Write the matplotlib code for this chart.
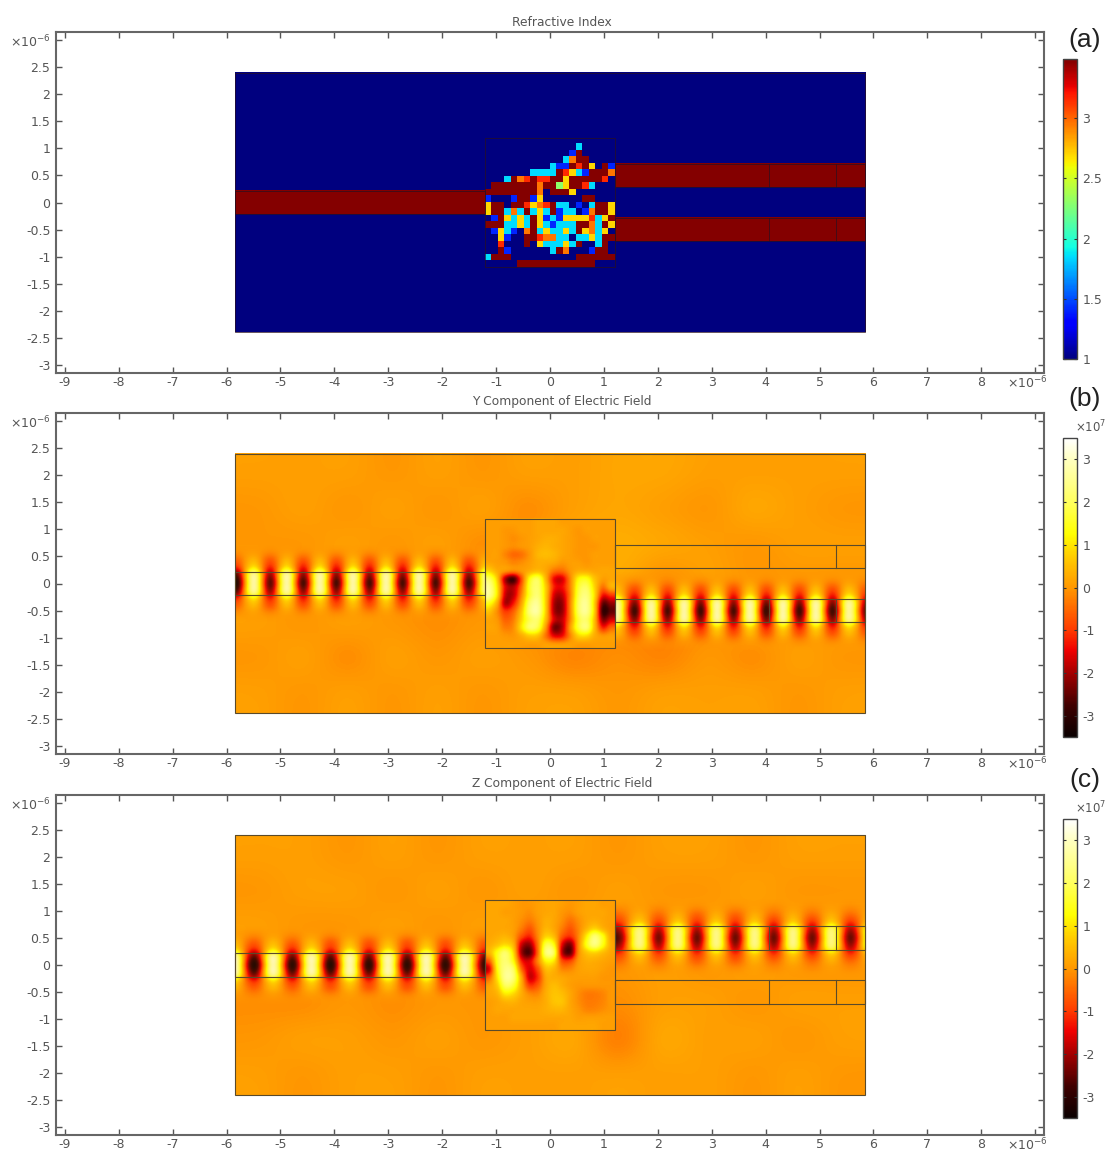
"""Refractive index map and Y / Z electric field maps of a waveguide splitter."""

import numpy as np
import matplotlib
matplotlib.use("Agg")
import matplotlib.pyplot as plt
from matplotlib.colors import LinearSegmentedColormap, Normalize
from matplotlib.cm import ScalarMappable
from matplotlib.patches import Rectangle

# axis ticks
x_ticks = [-9, -8, -7, -6, -5, -4, -3, -2, -1, 0, 1, 2, 3, 4, 5, 6, 7, 8, 9]
y_ticks = [3, 2.5, 2, 1.5, 1, 0.5, 0, -0.5, -1, -1.5, -2, -2.5, -3]
n_ticks = [1, 1.5, 2, 2.5, 3]
field_ticks = [-3, -2, -1, 0, 1, 2, 3]

# refractive index
n_clad = 1.0
n_core = 3.48
n_levels = {".": 1.0, "b": 1.4, "c": 1.85, "g": 2.3, "y": 2.7, "o": 2.95, "r": 3.15, "d": 3.48}
n_design = [
    "....................",
    "..............c.....",
    ".............bd.....",
    "............codd....",
    "..........cbbdrdy.db",
    ".......ccccdrycbdddo",
    "...cdordrrddydddddr.",
    ".dddddddoddgyddrc...",
    "ddddddddo.dddy......",
    "b...bddby......dd...",
    "ydd.ddryordcc.b.cddy",
    "yddcocdcycdbcc.boddy",
    ".bdycycdybcbyyyyrcyd",
    "dddccycdycbcccddocdy",
    ".bycb.odcyccycdyocy.",
    "..yb..ddroocc.ccycdd",
    "..r...d.ycccycd..cd.",
    "..db......cdo...bdd.",
    "cddd..........dddddd",
    ".....dddddddddddd...",
]

# waveguides: x from, x to, y from, y to
wg_in = [-5.85, -1.2, -0.22, 0.22]
wg_top = [1.2, 5.85, 0.28, 0.72]
wg_bottom = [1.2, 5.85, -0.72, -0.28]
domain = [-5.85, 5.85, -2.4, 2.4]
design = [-1.2, 1.2, -1.2, 1.2]
wg_cuts = [4.07, 5.3]

# faint field around the guides, rows from y=2.4 down to y=-2.4
bg_y = [
    [0.1, 0.1, 0.1, 0.0, 0.1, 0.0, 0.1, 0.1, 0.2, 0.2, 0.1, 0.1, 0.1, 0.1],
    [0.0, 0.1, 0.0, 0.1, 0.0, 0.1, -0.1, 0.1, 0.2, 0.1, 0.0, 0.2, 0.1, 0.0],
    [0.0, 0.0, 0.1, 0.0, 0.1, -0.1, 0.0, 0.2, 0.3, 0.2, 0.1, 0.0, 0.1, 0.1],
    [0.0, 0.1, 0.0, 0.0, 0.0, 0.0, 0.0, -0.1, 0.2, -0.1, 0.1, 0.0, 0.0, 0.0],
    [0.1, 0.0, 0.1, 0.0, -0.1, 0.0, -0.1, 0.0, -0.2, -0.2, -0.1, 0.1, 0.0, 0.1],
    [0.0, 0.1, -0.1, 0.1, 0.0, 0.1, 0.0, -0.2, -0.1, -0.2, 0.0, -0.1, 0.1, 0.0],
    [0.1, 0.0, 0.1, 0.0, 0.1, 0.0, 0.1, 0.1, 0.0, 0.1, 0.1, 0.1, 0.0, 0.1],
]
bg_z = [
    [0.1, 0.1, 0.0, 0.1, 0.0, 0.1, 0.1, 0.1, 0.0, 0.1, 0.1, 0.0, 0.1, 0.1],
    [0.0, 0.1, 0.1, 0.0, 0.1, 0.0, 0.1, 0.0, 0.1, 0.0, 0.0, 0.1, 0.0, 0.0],
    [0.1, 0.0, 0.0, 0.1, 0.0, 0.1, 0.0, 0.1, 0.1, 0.1, 0.1, 0.0, 0.1, 0.1],
    [0.0, 0.1, 0.1, 0.0, 0.1, 0.0, 0.0, 0.0, 0.0, 0.1, 0.0, 0.1, 0.0, 0.0],
    [-0.1, -0.1, 0.0, -0.1, 0.0, 0.0, 0.1, 0.1, -0.1, 0.1, 0.1, 0.0, 0.1, 0.1],
    [0.0, 0.1, 0.1, 0.0, 0.1, 0.0, 0.1, 0.2, -0.25, 0.2, 0.1, 0.1, 0.0, 0.1],
    [0.1, 0.0, 0.1, 0.1, 0.0, 0.1, 0.1, 0.1, 0.1, 0.1, 0.1, 0.0, 0.1, 0.0],
]

# Y field inside the design box, rows from y=1.125 down to y=-1.125
centre_y = [
    [0.1, 0.1, 0.1, 0.1, 0.1, 0.1, 0.2, 0.2, 0.2, 0.1, 0.1, 0.1, 0.1, 0.1, 0.1, 0.1],
    [0.1, 0.1, 0.0, 0.0, 0.1, 0.1, 0.2, 0.2, 0.2, 0.2, 0.1, 0.0, 0.1, 0.1, 0.1, 0.1],
    [0.1, 0.1, 0.0, -0.1, 0.0, 0.1, 0.2, 0.3, 0.3, 0.2, 0.1, 0.0, 0.0, 0.1, 0.1, 0.1],
    [0.1, 0.1, 0.0, -0.1, 0.0, 0.1, 0.3, 0.4, 0.3, 0.2, 0.1, 0.0, 0.0, 0.0, 0.1, 0.1],
    [0.1, 0.1, -0.2, -0.5, -0.4, 0.0, 0.4, 0.5, 0.4, 0.2, 0.1, 0.0, 0.0, 0.1, 0.1, 0.1],
    [0.2, 0.1, 0.0, -0.2, -0.1, 0.1, 0.3, 0.3, 0.2, 0.0, 0.1, 0.1, 0.0, 0.1, 0.1, 0.1],
    [0.8, 0.3, 0.0, -0.2, 0.0, 0.3, 0.5, 0.2, -0.4, -0.5, 0.0, 0.3, 0.3, 0.2, 0.2, 0.2],
    [2.0, 0.7, -1.9, -2.7, -0.8, 1.3, 1.9, 0.4, -1.4, -1.6, -0.2, 1.2, 1.4, 0.6, 0.1, 0.2],
    [2.5, 1.0, -1.5, -1.9, -0.5, 1.6, 2.1, 0.7, -1.2, -1.4, -0.2, 1.6, 2.0, 0.8, -0.4, 0.3],
    [2.5, 1.0, -1.7, -1.8, -0.2, 1.6, 2.2, 0.7, -1.6, -1.8, -0.3, 1.8, 2.3, 0.9, -1.3, -1.0],
    [1.4, 0.3, -1.9, -1.3, 0.2, 2.1, 2.5, 0.7, -1.9, -2.1, -0.2, 2.0, 2.5, 0.7, -2.4, -2.1],
    [0.6, -0.1, -1.0, -0.6, 0.6, 2.3, 2.6, 0.7, -1.9, -2.1, -0.2, 2.0, 2.5, 0.7, -2.8, -2.5],
    [0.2, 0.0, -0.6, -0.3, 0.8, 1.9, 2.1, 0.5, -1.6, -1.8, -0.2, 1.7, 2.1, 0.5, -2.2, -1.7],
    [0.2, 0.1, -0.3, -0.1, 1.0, 2.1, 1.8, 0.0, -2.3, -1.9, 0.1, 1.7, 2.2, 0.5, -1.2, -0.6],
    [0.1, 0.1, 0.0, 0.0, 0.3, 0.7, 0.6, -0.4, -1.5, -1.4, -0.2, 0.8, 0.9, 0.3, 0.0, 0.1],
    [0.1, 0.1, 0.1, 0.1, 0.1, 0.1, 0.1, 0.1, 0.0, 0.0, 0.1, 0.1, 0.1, 0.1, 0.1, 0.1],
]

# Z field inside the design box, rows from y=1.125 down to y=-1.125
centre_z = [
    [0.2, 0.2, 0.2, 0.1, 0.0, 0.0, 0.1, 0.2, 0.2, 0.1, 0.0, 0.1, 0.2, 0.2, 0.1, 0.1],
    [0.2, 0.2, 0.1, 0.1, 0.0, -0.1, 0.1, 0.2, 0.2, 0.0, -0.1, 0.1, 0.2, 0.2, 0.2, 0.1],
    [0.2, 0.2, 0.2, 0.1, -0.1, -0.3, 0.0, 0.3, 0.2, -0.1, -0.4, -0.1, 0.2, 0.3, 0.2, 0.1],
    [0.2, 0.2, 0.2, 0.1, -0.3, -0.7, -0.1, 0.4, 0.2, -0.3, -0.7, -0.2, 0.4, 0.8, 0.4, 0.1],
    [0.2, 0.3, 0.4, 0.1, -0.8, -1.2, -0.2, 0.8, 0.5, -0.7, -1.1, -0.2, 1.1, 2.2, 1.4, 0.2],
    [0.3, 0.6, 0.9, 0.4, -1.7, -2.1, -0.4, 1.8, 1.3, -1.5, -2.3, -0.2, 1.4, 2.3, 1.4, 0.3],
    [0.4, 1.4, 2.1, 0.9, -2.0, -2.6, -0.5, 2.2, 1.9, -1.8, -2.5, -0.2, 0.6, 0.8, 0.5, 0.2],
    [-0.6, 1.4, 2.2, 1.3, -1.2, -1.6, -0.2, 1.2, 1.0, -0.8, -0.9, 0.0, 0.3, 0.3, 0.2, 0.1],
    [-1.6, 1.2, 2.4, 2.0, -0.5, -1.6, -0.8, 0.5, 0.4, -0.2, -0.2, 0.1, 0.2, 0.2, 0.1, 0.0],
    [-0.6, 1.0, 2.5, 2.2, 0.2, -1.7, -1.1, 0.2, 0.3, 0.2, 0.1, 0.1, 0.1, 0.1, 0.0, 0.0],
    [0.1, 0.7, 2.0, 1.7, 0.3, -1.0, -0.7, 0.2, 0.5, 0.3, 0.1, 0.0, 0.0, 0.0, 0.0, 0.0],
    [0.2, 0.4, 1.1, 0.9, 0.3, -0.2, -0.2, 0.3, 0.6, 0.5, 0.2, -0.1, -0.3, -0.3, -0.2, 0.0],
    [0.1, 0.2, 0.4, 0.4, 0.2, 0.1, 0.1, 0.3, 0.6, 0.6, 0.2, -0.1, -0.3, -0.3, -0.2, 0.0],
    [0.1, 0.2, 0.2, 0.2, 0.2, 0.2, 0.2, 0.3, 0.4, 0.4, 0.2, 0.0, -0.2, -0.2, -0.1, 0.0],
    [0.1, 0.1, 0.1, 0.2, 0.2, 0.2, 0.2, 0.2, 0.2, 0.2, 0.2, 0.1, 0.1, 0.1, 0.1, 0.1],
    [0.1, 0.1, 0.1, 0.1, 0.1, 0.1, 0.1, 0.1, 0.1, 0.2, 0.2, 0.2, 0.2, 0.2, 0.1, 0.1],
]

# fringes along each guide: x of first and last crest, then rows from the
# guide axis outwards in 0.15 um steps (mirrored above and below)
b_in_span = [-5.81, -1.21]
b_in_rows = [
    [-3.3, 2.8, -2.6, 2.8, -2.8, 2.8, -2.8, 2.8, -2.8, 2.8, -2.8, 2.8, -2.8, 2.8, -2.8, 2.6],
    [-2.6, 2.6, -2.1, 2.7, -2.2, 2.7, -2.2, 2.7, -2.2, 2.7, -2.2, 2.7, -2.2, 2.7, -2.2, 2.5],
    [-1.1, 1.0, -1.2, 1.0, -1.3, 1.0, -1.3, 1.0, -1.3, 1.0, -1.3, 1.0, -1.3, 1.0, -1.3, 0.9],
    [-0.5, 0.4, -0.7, 0.4, -0.7, 0.4, -0.7, 0.4, -0.7, 0.4, -0.7, 0.4, -0.7, 0.4, -0.7, 0.4],
    [-0.1, 0.1, -0.2, 0.1, -0.2, 0.1, -0.2, 0.1, -0.2, 0.1, -0.2, 0.1, -0.2, 0.1, -0.2, 0.1],
    [0.0, 0.1, 0.0, 0.1, 0.0, 0.1, 0.0, 0.1, 0.0, 0.1, 0.0, 0.1, 0.0, 0.1, 0.0, 0.1],
]
b_out_span = [1.26, 5.84]
b_out_rows = [
    [2.7, -2.9, 2.8, -2.8, 2.8, -2.9, 2.8, -2.8, 2.8, -3.0, 2.8, -2.9, 2.8, -2.9, 2.7, -2.5],
    [2.5, -2.3, 2.6, -2.2, 2.7, -2.3, 2.7, -2.2, 2.7, -2.4, 2.7, -2.3, 2.7, -2.3, 2.6, -2.0],
    [0.9, -1.3, 1.0, -1.3, 1.0, -1.3, 1.0, -1.3, 1.0, -1.3, 1.0, -1.3, 1.0, -1.3, 1.0, -1.1],
    [0.4, -0.7, 0.4, -0.7, 0.4, -0.7, 0.4, -0.7, 0.4, -0.7, 0.4, -0.7, 0.4, -0.7, 0.4, -0.6],
    [0.1, -0.2, 0.1, -0.2, 0.1, -0.2, 0.1, -0.2, 0.1, -0.2, 0.1, -0.2, 0.1, -0.2, 0.1, -0.2],
    [0.1, 0.0, 0.1, 0.0, 0.1, 0.0, 0.1, 0.0, 0.1, 0.0, 0.1, 0.0, 0.1, 0.0, 0.1, 0.0],
]
c_in_span = [-5.85, -1.24]
c_in_rows = [
    [3.3, -3.3, 2.9, -3.2, 2.9, -3.3, 2.9, -3.2, 2.9, -3.2, 2.9, -3.2, 2.9, -3.0],
    [3.0, -2.6, 2.8, -2.5, 2.8, -2.6, 2.8, -2.5, 2.8, -2.5, 2.8, -2.5, 2.8, -2.4],
    [1.0, -1.2, 1.0, -1.2, 1.0, -1.2, 1.0, -1.2, 1.0, -1.2, 1.0, -1.2, 1.0, -1.1],
    [0.4, -0.6, 0.4, -0.6, 0.4, -0.7, 0.4, -0.7, 0.4, -0.7, 0.4, -0.7, 0.4, -0.6],
    [0.1, -0.2, 0.1, -0.2, 0.1, -0.2, 0.1, -0.2, 0.1, -0.2, 0.1, -0.2, 0.1, -0.2],
    [0.1, 0.0, 0.1, 0.0, 0.1, 0.0, 0.1, 0.0, 0.1, 0.0, 0.1, 0.0, 0.1, 0.0],
]
c_out_span = [1.3, 5.92]
c_out_rows = [
    [-2.4, 2.5, -2.4, 2.5, -2.5, 2.5, -2.5, 2.5, -2.5, 2.5, -2.5, 2.4, -2.5, 2.4],
    [-1.9, 2.3, -1.9, 2.3, -2.0, 2.3, -2.0, 2.3, -2.0, 2.3, -2.0, 2.2, -2.0, 2.2],
    [-1.0, 0.8, -1.0, 0.8, -1.1, 0.8, -1.1, 0.8, -1.1, 0.8, -1.1, 0.8, -1.1, 0.8],
    [-0.5, 0.3, -0.5, 0.3, -0.6, 0.3, -0.6, 0.3, -0.5, 0.3, -0.5, 0.3, -0.5, 0.3],
    [-0.2, 0.1, -0.2, 0.1, -0.2, 0.1, -0.2, 0.1, -0.2, 0.1, -0.2, 0.1, -0.2, 0.1],
    [0.0, 0.1, 0.0, 0.1, 0.0, 0.1, 0.0, 0.1, 0.0, 0.1, 0.0, 0.1, 0.0, 0.1],
]
# how much of each strip row shows over the background, axis outwards
strip_fade = [0.93, 0.93, 0.93, 0.85, 0.45, 0.0]

heat_colors = [
    (0.0, "#0a0000"), (0.10, "#3c0000"), (0.21, "#a00000"), (0.29, "#f00000"),
    (0.36, "#ff3c00"), (0.50, "#ff9800"), (0.61, "#ffd000"), (0.68, "#ffff00"),
    (0.79, "#ffff60"), (0.93, "#ffffc0"), (1.0, "#ffffff"),
]
heat = LinearSegmentedColormap.from_list("heat", heat_colors)
n_norm = Normalize(1.0, 3.49)
field_norm = Normalize(-3.5, 3.5)

GRAY = "#555555"
W, H = 1107, 1151
X_LIM = (-9.165, 9.165)
Y_LIM = (-3.15, 3.15)


def new_axes(fig, left, top, right, bottom):
    return fig.add_axes([left / W, 1 - bottom / H, (right - left) / W, (bottom - top) / H])


def put_image(ax, values, extent, cmap, norm, interpolation="catrom", clip=None, alpha=None):
    im = ax.imshow(values, extent=extent, cmap=cmap, norm=norm, aspect="auto",
                   interpolation=interpolation, origin="upper", alpha=alpha)
    if clip is not None:
        box = Rectangle((clip[0], clip[2]), clip[1] - clip[0], clip[3] - clip[2],
                        transform=ax.transData)
        im.set_clip_path(box)
    return im


def put_strip(ax, span, rows, y_mid, x_clip):
    grid = np.array(rows[::-1] + rows[1:])
    fade = np.array(strip_fade[::-1] + strip_fade[1:])
    alpha = np.repeat(fade[:, None], grid.shape[1], axis=1)
    dx = (span[1] - span[0]) / (len(rows[0]) - 1)
    half = (len(rows) - 0.5) * 0.15
    # stop short of the last row so no edge line shows
    clip = [x_clip[0], x_clip[1], y_mid - 0.72, y_mid + 0.72]
    put_image(ax, grid, [span[0] - dx / 2, span[1] + dx / 2, y_mid - half, y_mid + half],
              heat, field_norm, clip=clip, alpha=alpha)


def draw_outlines(ax, color, lw):
    for box in (domain, design, wg_in, wg_top, wg_bottom):
        ax.add_patch(Rectangle((box[0], box[2]), box[1] - box[0], box[3] - box[2],
                               fill=False, edgecolor=color, linewidth=lw, zorder=5))
    for x in wg_cuts:
        for box in (wg_top, wg_bottom):
            ax.plot([x, x], box[2:], color=color, linewidth=lw, zorder=5)


def style_axes(ax):
    ax.set_xlim(X_LIM)
    ax.set_ylim(Y_LIM)
    ax.set_xticks(x_ticks)
    ax.set_xticklabels(["" if v == 9 else str(v) for v in x_ticks])
    ax.set_yticks(y_ticks)
    ax.set_yticklabels([r"$\times10^{-6}$" if v == 3 else f"{v:g}" for v in y_ticks])
    ax.tick_params(direction="in", top=True, right=True, length=4, width=1,
                   color="#555555", labelcolor=GRAY, labelsize=9)
    ax.tick_params(axis="y", pad=4)
    ax.tick_params(axis="x", pad=2.5)
    for spine in ax.spines.values():
        spine.set_color("#666666")
        spine.set_linewidth(1.5)
    # the x exponent sits a little left of the last tick
    ax.annotate(r"$\times10^{-6}$", xy=(8.85, Y_LIM[0]), xycoords="data", xytext=(0, -1),
                textcoords="offset points", ha="center", va="top", fontsize=9, color=GRAY,
                annotation_clip=False)


def add_bar(fig, top, bottom, cmap, norm, ticks):
    cax = new_axes(fig, 1063, top, 1077, bottom)
    cb = fig.colorbar(ScalarMappable(norm=norm, cmap=cmap), cax=cax)
    cb.set_ticks(ticks)
    cb.set_ticklabels([f"{v:g}" for v in ticks])
    cax.tick_params(direction="in", left=True, right=True, length=2, width=0.8,
                    color="#333333", labelcolor=GRAY, labelsize=9, pad=4)
    cb.outline.set_edgecolor("#444444")
    cb.outline.set_linewidth(1.0)
    return cb


def panel_texts(fig):
    for text, y in (("Refractive Index", 22), ("Y Component of Electric Field", 401),
                    ("Z Component of Electric Field", 783)):
        fig.text(562 / W, 1 - y / H, text, ha="center", va="center", fontsize=8.8, color=GRAY)
    for text, y in (("(a)", 40), ("(b)", 399), ("(c)", 780)):
        fig.text(1085 / W, 1 - y / H, text, ha="center", va="center", fontsize=19,
                 family="Liberation Sans", color="#222222")
    for y in (427, 808):
        fig.text(1091 / W, 1 - y / H, r"$\times10^{7}$", ha="center", va="center",
                 fontsize=8.5, color=GRAY)


fig = plt.figure(figsize=(W / 100, H / 100), dpi=100)

# (a) refractive index
ax_a = new_axes(fig, 56, 32, 1044, 373)
put_image(ax_a, [[n_clad]], domain, "jet", n_norm, "nearest")
for box in (wg_in, wg_top, wg_bottom):
    put_image(ax_a, [[n_core]], box, "jet", n_norm, "nearest")
n_grid = np.array([[n_levels[ch] for ch in row] for row in n_design])
put_image(ax_a, n_grid, design, "jet", n_norm, "nearest")
draw_outlines(ax_a, "#2a1020", 0.5)
style_axes(ax_a)
add_bar(fig, 59, 359, "jet", n_norm, n_ticks)

# (b) Y component
ax_b = new_axes(fig, 56, 413, 1044, 754)
inner_in = [domain[0], design[0]]
inner_out = [design[1], domain[1]]
put_image(ax_b, bg_y, domain, heat, field_norm)
put_strip(ax_b, b_in_span, b_in_rows, 0.0, inner_in)
put_strip(ax_b, b_out_span, b_out_rows, -0.5, inner_out)
put_image(ax_b, centre_y, design, heat, field_norm)
draw_outlines(ax_b, "#5a4a2a", 0.8)
style_axes(ax_b)
add_bar(fig, 438, 737, heat, field_norm, field_ticks)

# (c) Z component
ax_c = new_axes(fig, 56, 795, 1044, 1135)
put_image(ax_c, bg_z, domain, heat, field_norm)
put_strip(ax_c, c_in_span, c_in_rows, 0.0, inner_in)
put_strip(ax_c, c_out_span, c_out_rows, 0.5, inner_out)
put_image(ax_c, centre_z, design, heat, field_norm)
draw_outlines(ax_c, "#5a4a2a", 0.8)
style_axes(ax_c)
add_bar(fig, 819, 1118, heat, field_norm, field_ticks)

panel_texts(fig)
fig.savefig("out.png", dpi=100)
